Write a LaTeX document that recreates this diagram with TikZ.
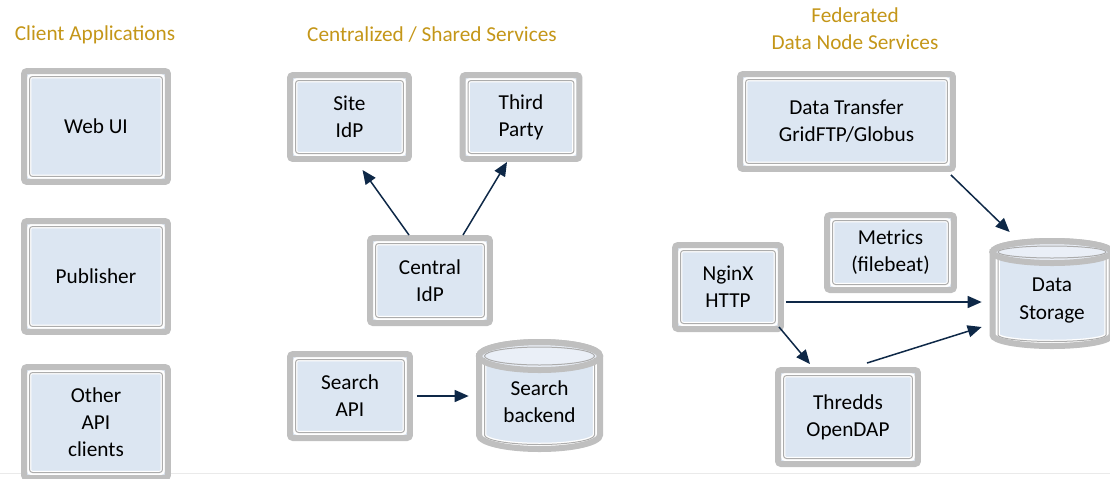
\documentclass[tikz,border=0pt]{standalone}
\usepackage{fontspec}
\setmainfont{Carlito}
\usetikzlibrary{arrows.meta}

\definecolor{boxgray}{RGB}{191,191,191}
\definecolor{innergray}{RGB}{172,172,172}
\definecolor{boxfill}{RGB}{220,230,242}
\definecolor{capfill}{RGB}{234,239,247}
\definecolor{titlegold}{RGB}{196,150,24}
\definecolor{flowblue}{RGB}{14,40,71}
\definecolor{rulegray}{RGB}{234,234,234}

\tikzset{
  svc/.style={draw=boxgray, line width=0.12cm, fill=boxfill, rounded corners=0.06cm,
    align=center, inner sep=0pt,
    path picture={
      \draw[white, line width=0.09cm] ([shift={(0.1cm,0.1cm)}]path picture bounding box.south west) rectangle ([shift={(-0.1cm,-0.1cm)}]path picture bounding box.north east);
      \draw[innergray, line width=0.02cm] ([shift={(0.11cm,0.11cm)}]path picture bounding box.south west) rectangle ([shift={(-0.11cm,-0.11cm)}]path picture bounding box.north east);
    }},
  band/.style={draw=boxgray, line width=0.12cm},
  inband/.style={draw=innergray, line width=0.02cm},
  dbtext/.style={align=center, inner sep=0pt, minimum width=2.5cm},
  title/.style={text=titlegold, align=center},
  flow/.style={flowblue, line width=0.03cm, -{Triangle[length=0.28cm,width=0.24cm]}}
}

\begin{document}
\begin{tikzpicture}[x=0.02cm, y=-0.02cm, font=\fontsize{12.1}{15.4}\selectfont]
  \useasboundingbox (0,0) rectangle (1110,478);
  \clip (0,0) rectangle (1110,478);
  \draw[rulegray, line width=0.02cm] (0,473) -- (1110,473);

  % group titles
  \node[title] (tclient) at (95,35) {Client Applications};
  \node[title] (tcentral) at (432,35) {Centralized / Shared Services};
  \node[title] (tfed) at (855,29) {Federated\\Data Node Services};

  % client applications
  \node[svc, minimum width=2.88cm, minimum height=2.22cm] (web) at (96,126.5) {Web UI};
  \node[svc, minimum width=2.88cm, minimum height=2.22cm] (pub) at (96,276.5) {Publisher};
  \node[svc, minimum width=2.88cm, minimum height=2.22cm] (other) at (96,422.5) {Other\\API\\clients};

  % centralized services
  \node[svc, minimum width=2.38cm, minimum height=1.68cm] (site) at (349.5,117) {Site\\IdP};
  \node[svc, minimum width=2.34cm, minimum height=1.68cm] (third) at (521,117) {Third\\Party};
  \node[svc, minimum width=2.40cm, minimum height=1.70cm] (central) at (430,280.5) {Central\\IdP};
  \node[svc, minimum width=2.40cm, minimum height=1.68cm] (sapi) at (350,396) {Search\\API};

  % search backend cylinder
  \fill[boxfill] (479,356) -- (479,435) arc (180:0:60.5 and 14) -- (600,356) arc (0:-180:60.5 and 14) -- cycle;
  \fill[capfill] (539.5,356) ellipse (60.5 and 14);
  \draw[white, line width=0.09cm] (484,358) -- (484,435) arc (180:0:55.5 and 10) -- (595,358);
  \draw[inband] (484.5,358) -- (484.5,435) arc (180:0:55 and 9.5) -- (594.5,358);
  \draw[inband] (539.5,356) ellipse (55 and 9);
  \draw[band] (479,356) -- (479,435) arc (180:0:60.5 and 14) -- (600,356) arc (0:-180:60.5 and 14) -- cycle;
  \draw[band] (539.5,356) ellipse (60.5 and 14);
  \node[dbtext] (sback) at (539.5,401.5) {Search\\backend};

  % data node services
  \node[svc, minimum width=4.26cm, minimum height=1.90cm] (xfer) at (846.5,121.5) {Data Transfer\\GridFTP/Globus};
  \node[svc, minimum width=2.54cm, minimum height=1.50cm] (metrics) at (890.5,252.5) {Metrics\\(filebeat)};
  \node[svc, minimum width=2.12cm, minimum height=1.68cm] (nginx) at (728,287) {NginX\\HTTP};
  \node[svc, minimum width=2.80cm, minimum height=1.88cm] (thredds) at (848,417) {Thredds\\OpenDAP};

  % data storage cylinder
  \fill[boxfill] (992.5,252) -- (992.5,335) arc (180:0:59.5 and 11) -- (1111.5,252) arc (0:-180:59.5 and 11) -- cycle;
  \fill[capfill] (1052,252) ellipse (59.5 and 11);
  \draw[white, line width=0.09cm] (997.5,254) -- (997.5,335) arc (180:0:54.5 and 7) -- (1106.5,254);
  \draw[inband] (998,254) -- (998,335) arc (180:0:54 and 6.5) -- (1106,254);
  \draw[inband] (1052,252) ellipse (54 and 6);
  \draw[band] (992.5,252) -- (992.5,335) arc (180:0:59.5 and 11) -- (1111.5,252) arc (0:-180:59.5 and 11) -- cycle;
  \draw[band] (1052,252) ellipse (59.5 and 11);
  \node[dbtext] (store) at (1052,300.5) {Data\\Storage};

  % connectors
  \draw[flow] ([shift={(-21,0)}]central.north) -- ([shift={(13,8)}]site.south);
  \draw[flow] ([shift={(33,0)}]central.north) -- ([shift={(-14,0)}]third.south);
  \draw[flow] ([xshift=0.08cm]sapi.east) -- ([xshift=-0.16cm]sapi.east -| sback.west);
  \draw[flow] ([shift={(-5,3)}]xfer.south east) -- ([shift={(20.5,-68.5)}]store.west);
  \draw[flow] ([shift={(2,15)}]nginx.east) -- ([shift={(-7.5,15)}]nginx.east -| store.west);
  \draw[flow] ([shift={(-5,-5)}]nginx.south east) -- ([shift={(-38,-3)}]thredds.north);
  \draw[flow] ([shift={(19,-4)}]thredds.north) -- ([shift={(-7.5,26.5)}]store.west);
\end{tikzpicture}
\end{document}
